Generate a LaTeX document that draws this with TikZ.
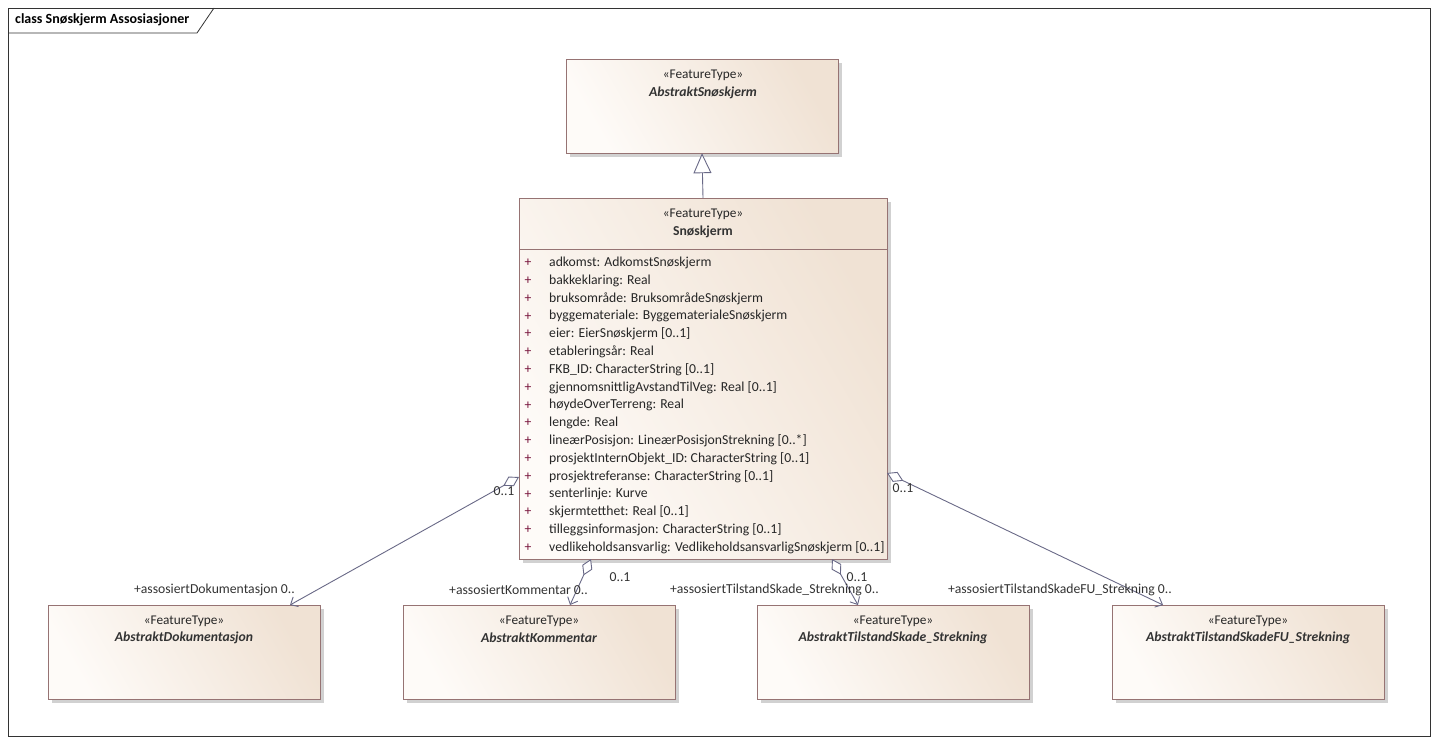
\documentclass[tikz,border=0pt]{standalone}
\usepackage{fontspec}
\setmainfont{Carlito}
\usetikzlibrary{arrows.meta,calc}
\definecolor{cbord}{RGB}{150,115,115}
\definecolor{cline}{RGB}{105,105,135}
\definecolor{clA}{RGB}{254,251,248}
\definecolor{clB}{RGB}{240,226,212}
\definecolor{cplus}{RGB}{120,20,60}
\tikzset{
 cls/.style={draw=cbord, line width=0.9pt, left color=clA, right color=clB, shading angle=120, inner sep=0pt},
 shad/.style={fill=black!18, draw=none},
 ster/.style={font=\fontsize{13.3}{15}\selectfont, text=black!85, inner sep=0pt},
 cname/.style={font=\fontsize{13.7}{15}\selectfont\bfseries\itshape, text=black!80, inner sep=0pt},
 attr/.style={font=\fontsize{13.7}{15}\selectfont, text=black!85, inner sep=0pt, anchor=west},
 pl/.style={font=\fontsize{13.7}{15}\selectfont, text=cplus, inner sep=0pt},
 lab/.style={font=\fontsize{13.7}{15}\selectfont, text=black!80, inner sep=0pt},
 assoc/.style={draw=cline, line width=0.9pt, {Diamond[open,fill=white,length=18pt,width=11pt]}-{Straight Barb[length=6pt,width=11pt]}},
}
\begin{document}
\begin{tikzpicture}[x=1pt,y=-1pt]
\useasboundingbox (0,0) rectangle (1438,744);
\fill[white] (0,0) rectangle (1438,744);
% frame
\draw[black!80, line width=0.8pt] (8,8) rectangle (1430,736);
\draw[black!80, line width=0.8pt] (8,33) -- (197,33) -- (214,8);
\node[anchor=west, font=\fontsize{14}{16}\selectfont\bfseries, inner sep=0pt] (title) at (15,20) {class Snøskjerm Assosiasjoner};
% classes
\foreach \n/\xa/\ya/\xb/\yb in {abs/566/59/838/153, main/519/198/887/559, dok/48/605/320/699, kom/403/605/675/699, ts/757/605/1029/699, tsfu/1112/605/1384/699}{
  \fill[shad] (\xa+4,\ya+4) rectangle (\xb+4,\yb+4);
  \path[cls] (\xa,\ya) rectangle (\xb,\yb);
  \node[inner sep=0pt, minimum width=\xb-\xa, minimum height=\yb-\ya] (\n) at ({(\xa+\xb)/2},{(\ya+\yb)/2}) {};
}
\draw[cbord, line width=0.9pt] (519,249) -- (887,249);
\node[ster] (s1) at (703,75) {«FeatureType»};
\node[cname] (n1) at (703,93) {AbstraktSnøskjerm};
\node[ster] (s2) at (703,214) {«FeatureType»};
\node[cname, font=\fontsize{13.7}{15}\selectfont\bfseries] (n2) at (703,232) {Snøskjerm};
\node[ster] (s3) at (184,621) {«FeatureType»};
\node[cname] (n3) at (184,638) {AbstraktDokumentasjon};
\node[ster] (s4) at (539,621) {«FeatureType»};
\node[cname] (n4) at (539,638) {AbstraktKommentar};
\node[ster] (s5) at (893,621) {«FeatureType»};
\node[cname] (n5) at (893,638) {AbstraktTilstandSkade\_Strekning};
\node[ster] (s6) at (1248,621) {«FeatureType»};
\node[cname] (n6) at (1248,638) {AbstraktTilstandSkadeFU\_Strekning};
% attributes
\foreach \t [count=\i from 0] in {adkomst: AdkomstSnøskjerm, bakkeklaring: Real, bruksområde: BruksområdeSnøskjerm, byggemateriale: ByggematerialeSnøskjerm, eier: EierSnøskjerm [0..1], etableringsår: Real, FKB\_ID: CharacterString [0..1], gjennomsnittligAvstandTilVeg: Real [0..1], høydeOverTerreng: Real, lengde: Real, lineærPosisjon: LineærPosisjonStrekning [0..*], prosjektInternObjekt\_ID: CharacterString [0..1], prosjektreferanse: CharacterString [0..1], senterlinje: Kurve, skjermtetthet: Real [0..1], tilleggsinformasjon: CharacterString [0..1], vedlikeholdsansvarlig: VedlikeholdsansvarligSnøskjerm [0..1]}{
  \node[pl] (p\i) at (528,{263+17.8*\i}) {+};
  \node[attr] (a\i) at (549,{263+17.8*\i}) {\t};
}
% generalization
\draw[cline, line width=0.9pt, -{Triangle[open,fill=white,length=20pt,width=18pt]}] (main.north) -- (abs.south);
% associations
\coordinate (d1) at (519,477); \coordinate (e1) at (290,605);
\coordinate (d2) at (591,559); \coordinate (e2) at (570,605);
\coordinate (d3) at (832,559); \coordinate (e3) at (858,605);
\coordinate (d4) at (887,473); \coordinate (e4) at (1163,605);
\draw[assoc] (d1) -- (e1);
\draw[assoc] (d2) -- (e2);
\draw[assoc] (d3) -- (e3);
\draw[assoc] (d4) -- (e4);
\node[lab] (m1) at (504,491) {0..1};
\node[lab, anchor=east] (r1) at (295,590) {+assosiertDokumentasjon 0..};
\node[lab] (m2) at (620,577) {0..1};
\node[lab, anchor=east] (r2) at (588,590) {+assosiertKommentar 0..};
\node[lab] (m3) at (857,577) {0..1};
\node[lab, anchor=east] (r3) at (879,590) {+assosiertTilstandSkade\_Strekning 0..};
\node[lab] (m4) at (903,488) {0..1};
\node[lab, anchor=east] (r4) at (1172,590) {+assosiertTilstandSkadeFU\_Strekning 0..};
\end{tikzpicture}
\end{document}
